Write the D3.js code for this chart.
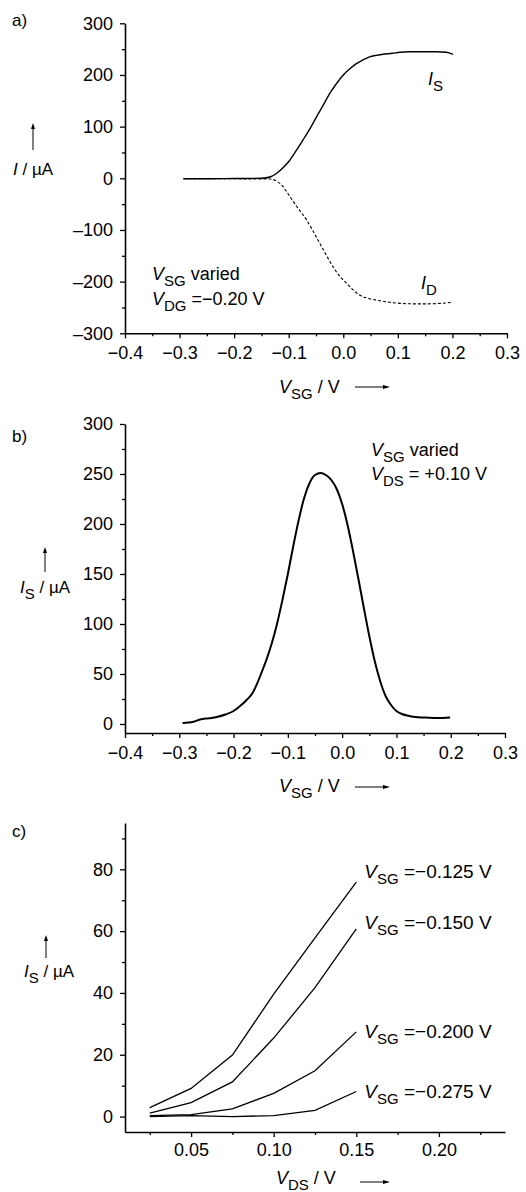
<!DOCTYPE html>
<html><head><meta charset="utf-8">
<script src="https://cdn.jsdelivr.net/npm/d3@7"></script>
<style>
body{margin:0;background:#fff}
svg{display:block;background:#fff}
text{font-family:"Liberation Sans",Arial,Helvetica,sans-serif;fill:#000}
</style>
</head><body>
<svg id="chart" width="526" height="1192"></svg>
<script>
// ---------- DATA ----------
// Panel a: I_S and I_D vs V_SG (V_DG = -0.20 V)
const aVSG_S = [-0.293,-0.25,-0.2,-0.15,-0.133,-0.122,-0.11,-0.098,-0.086,-0.074,-0.061,-0.049,-0.037,-0.025,-0.012,0.0,0.012,0.024,0.036,0.048,0.06,0.073,0.09,0.104,0.12,0.134,0.15,0.171,0.189,0.201];
const aIS     = [-1,-1,-0.5,0,3,9.7,21,35,54,74,96,119,141,164,184,200,212,222,229,235,238,240,242,244,245,245,245,245,244,240];
const aVSG_D = [-0.293,-0.2,-0.133,-0.125,-0.115,-0.105,-0.098,-0.085,-0.067,-0.055,-0.043,-0.031,-0.019,-0.007,0.006,0.018,0.030,0.048,0.067,0.085,0.104,0.13,0.152,0.18,0.201];
const aID     = [-1,-1,-1.5,-4,-11,-24,-35,-55,-81,-103,-126,-149,-171,-189,-203,-216,-226,-233,-237,-240,-242,-243,-243,-242,-240];
const aXTicks = [-0.4,-0.3,-0.2,-0.1,0.0,0.1,0.2,0.3];
const aYTicks = [-300,-200,-100,0,100,200,300];

// Panel b: I_S vs V_SG (V_DS = +0.10 V)
const bVSG = [-0.294,-0.274,-0.262,-0.245,-0.231,-0.215,-0.2,-0.188,-0.176,-0.165,-0.157,-0.148,-0.139,-0.13,-0.12,-0.11,-0.1,-0.09,-0.08,-0.07,-0.06,-0.05,-0.04,-0.03,-0.02,-0.01,0.0,0.01,0.02,0.03,0.04,0.05,0.06,0.07,0.08,0.09,0.1,0.11,0.12,0.135,0.15,0.175,0.199];
const bIS  = [1,2.3,4.5,5.8,7,9.5,13,18,24,31,40,52,65,80,100,124,150,178,204,226,241,249,251,249,244,235,220,199,173,145,116,88,63,43,28,19,13,10,8.5,7,6.5,6,6.5];
const bXTicks = [-0.4,-0.3,-0.2,-0.1,0.0,0.1,0.2,0.3];
const bYTicks = [0,50,100,150,200,250,300];

// Panel c: I_S vs V_DS for several V_SG
const cVDS = [0.025,0.05,0.075,0.10,0.125,0.15];
const cVSG = ["\u22120.125","\u22120.150","\u22120.200","\u22120.275"];
const cIS_125 = [2.9,9.1,19.9,39.6,57.8,75.9];
const cIS_150 = [1.1,4.5,11.2,25.4,41.7,60.7];
const cIS_200 = [0.3,0.6,2.5,7.5,14.8,27.4];
const cIS_275 = [0,0.3,0,0.3,2.0,8.1];
const cXTicks = [0.05,0.10,0.15,0.20];
const cYTicks = [0,20,40,60,80];

// ---------- DRAWING ----------
const svg = d3.select("#chart");
const FS = 18, SUB = 15;

function rich(x, y, parts, size) {
  size = size || FS;
  const t = svg.append("text").attr("x", x).attr("y", y).style("font-size", size + "px");
  let shifted = false;
  parts.forEach(p => {
    const [txt, st] = p;
    const ts = t.append("tspan").text(txt);
    if (st && st.includes("i")) ts.style("font-style", "italic");
    if (st && st.includes("s")) {
      ts.style("font-size", SUB + "px");
      if (!shifted) { ts.attr("dy", 6); shifted = true; }
    } else {
      if (shifted) { ts.attr("dy", -6); shifted = false; }
    }
  });
  return t;
}
function arrowUp(x, y1, y2) {
  svg.append("line").attr("x1", x).attr("x2", x).attr("y1", y2).attr("y2", y1 + 5)
    .attr("stroke", "#000").attr("stroke-width", 1);
  svg.append("path").attr("d", `M${x},${y1} L${x-2},${y1+6} L${x+2},${y1+6} Z`).attr("fill", "#000");
}
function arrowRight(x1, x2, y) {
  svg.append("line").attr("x1", x1).attr("x2", x2 - 5).attr("y1", y).attr("y2", y)
    .attr("stroke", "#000").attr("stroke-width", 1);
  svg.append("path").attr("d", `M${x2},${y} L${x2-7},${y-2} L${x2-7},${y+2} Z`).attr("fill", "#000");
}
const dash = s => s.replace("-", "\u2013");

function drawAxes(x, y, xMaj, xMin, yMaj, yMin, xFmt, yFmt, xPad) {
  const xAxisY = y.range()[0];
  const yAxisX = x.range()[0];
  const gxm = svg.append("g").attr("transform", `translate(0,${xAxisY})`)
    .call(d3.axisBottom(x).tickValues(xMin).tickSize(3).tickFormat(""));
  gxm.select(".domain").remove();
  const gym = svg.append("g").attr("transform", `translate(${yAxisX},0)`)
    .call(d3.axisLeft(y).tickValues(yMin).tickSize(3).tickFormat(""));
  gym.select(".domain").remove();
  const gx = svg.append("g").attr("transform", `translate(0,${xAxisY})`)
    .call(d3.axisBottom(x).tickValues(xMaj).tickSize(5).tickSizeOuter(0).tickPadding(xPad).tickFormat(xFmt));
  const gy = svg.append("g").attr("transform", `translate(${yAxisX},0)`)
    .call(d3.axisLeft(y).tickValues(yMaj).tickSize(5).tickSizeOuter(0).tickPadding(7).tickFormat(yFmt));
  [gx, gy, gxm, gym].forEach(g => {
    g.selectAll("text").style("font-size", FS + "px").style("font-family", '"Liberation Sans",Arial,sans-serif').attr("fill", "#000");
    g.selectAll("line").attr("stroke", "#000").attr("stroke-width", 1.3);
    g.select(".domain").attr("stroke", "#000").attr("stroke-width", 1.6);
  });
}
const range = (a, b, s) => d3.range(Math.round((b - a) / s) + 1).map(i => +(a + i * s).toFixed(4));

// ===== Panel a =====
{
  const x = d3.scaleLinear().domain([-0.4, 0.3]).range([125, 507]);
  const y = d3.scaleLinear().domain([-300, 300]).range([333.3, 23.3]);
  drawAxes(x, y, aXTicks, range(-0.35, 0.25, 0.1), aYTicks, range(-250, 250, 100),
    d => dash(d3.format(".1f")(d)), d => dash(String(d)), 8);
  const line = d3.line().x(d => x(d[0])).y(d => y(d[1])).curve(d3.curveMonotoneX);
  svg.append("path").attr("d", line(d3.zip(aVSG_D, aID))).attr("fill", "none")
    .attr("stroke", "#000").attr("stroke-width", 1.1).attr("stroke-dasharray", "3,2");
  svg.append("path").attr("d", line(d3.zip(aVSG_S, aIS))).attr("fill", "none")
    .attr("stroke", "#000").attr("stroke-width", 1.4);
  svg.append("text").attr("x", 12).attr("y", 26).style("font-size", "17px").text("a)");
  arrowUp(33, 123, 150);
  rich(13, 175, [["I", "i"], [" / \u00b5A", ""]], 17);
  rich(428, 85, [["I", "i"], ["S", "s"]]);
  rich(421, 289, [["I", "i"], ["D", "s"]]);
  rich(152, 280, [["V", "i"], ["SG", "s"], [" varied", ""]]);
  rich(152, 305, [["V", "i"], ["DG", "s"], [" =\u22120.20 V", ""]]);
  rich(279, 393, [["V", "i"], ["SG", "s"], [" / V", ""]]);
  arrowRight(355, 390, 387);
}
// ===== Panel b =====
{
  const x = d3.scaleLinear().domain([-0.4, 0.3]).range([125, 505]);
  const y = d3.scaleLinear().domain([-9, 300]).range([733, 424]);
  drawAxes(x, y, bXTicks, range(-0.35, 0.25, 0.1), bYTicks, range(25, 275, 50),
    d => dash(d3.format(".1f")(d)), d => String(d), 8);
  const line = d3.line().x(d => x(d[0])).y(d => y(d[1])).curve(d3.curveMonotoneX);
  svg.append("path").attr("d", line(d3.zip(bVSG, bIS))).attr("fill", "none")
    .attr("stroke", "#000").attr("stroke-width", 2);
  svg.append("text").attr("x", 12).attr("y", 442).style("font-size", "17px").text("b)");
  arrowUp(45, 547, 572);
  rich(20, 593, [["I", "i"], ["S", "s"], [" / \u00b5A", ""]], 17);
  rich(371, 456, [["V", "i"], ["SG", "s"], [" varied", ""]]);
  rich(371, 480, [["V", "i"], ["DS", "s"], [" = +0.10 V", ""]]);
  rich(279, 792, [["V", "i"], ["SG", "s"], [" / V", ""]]);
  arrowRight(355, 390, 787);
}
// ===== Panel c =====
{
  const x = d3.scaleLinear().domain([0.01, 0.24]).range([125, 505]);
  const y = d3.scaleLinear().domain([-5, 95]).range([1132, 823]);
  drawAxes(x, y, cXTicks, range(0.025, 0.225, 0.05), cYTicks, range(10, 90, 20),
    d => d3.format(".2f")(d), d => String(d), 6);
  const line = d3.line().x(d => x(d[0])).y(d => y(d[1]));
  const series = [cIS_125, cIS_150, cIS_200, cIS_275];
  const dy = [-4, 0, 6, 6];
  series.forEach((s, i) => {
    svg.append("path").attr("d", line(d3.zip(cVDS, s))).attr("fill", "none")
      .attr("stroke", "#000").attr("stroke-width", 1.3);
    const last = s[s.length - 1];
    rich(x(cVDS[cVDS.length - 1]) + 8, y(last) + dy[i], [["V", "i"], ["SG", "s"], [" =" + cVSG[i] + " V", ""]], 19);
  });
  svg.append("text").attr("x", 12).attr("y", 837).style("font-size", "17px").text("c)");
  arrowUp(46, 935, 958);
  rich(24, 977, [["I", "i"], ["S", "s"], [" / \u00b5A", ""]], 17);
  rich(276, 1184, [["V", "i"], ["DS", "s"], [" / V", ""]]);
  arrowRight(360, 390, 1182);
}
</script>
</body></html>
